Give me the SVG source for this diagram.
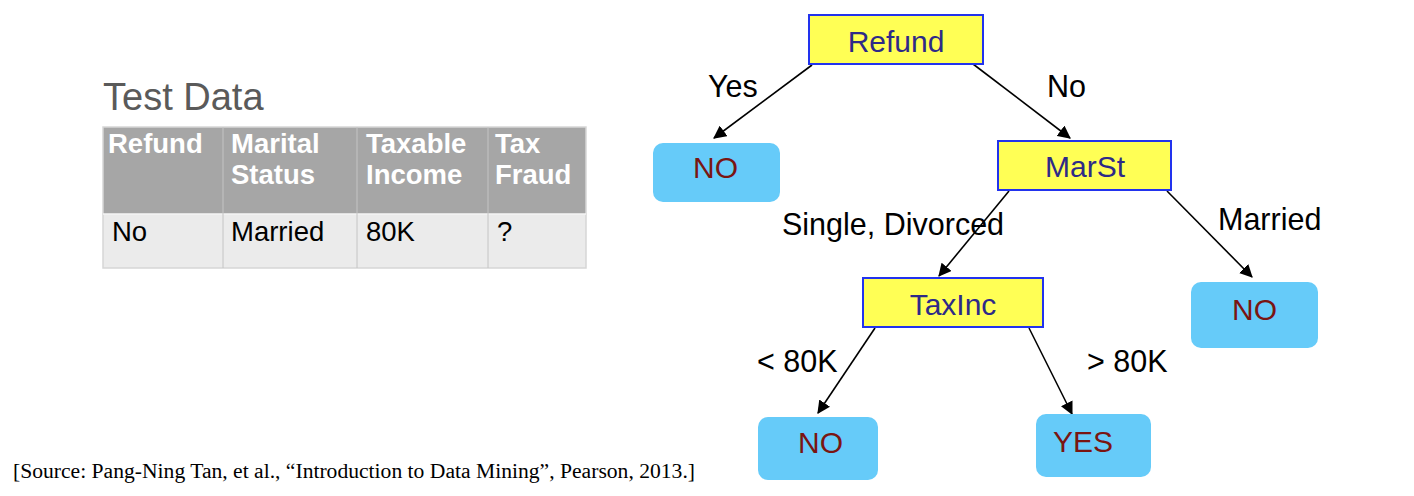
<svg xmlns="http://www.w3.org/2000/svg" width="1414" height="496" viewBox="0 0 1414 496">
<style>
.dec{fill:#ffff55;stroke:#2233ee;stroke-width:2}
.leaf{fill:#66cbf9}
.dt{font-family:"Liberation Sans",Arial,sans-serif;font-size:30px;fill:#2e2a88;text-anchor:middle}
.lt{font-family:"Liberation Sans",Arial,sans-serif;font-size:30px;fill:#7a1512}
.lbl{font-family:"Liberation Sans",Arial,sans-serif;font-size:30.5px;fill:#000}
.edge{stroke:#000;stroke-width:1.6;fill:none;marker-end:url(#arr)}
.th{font-family:"Liberation Sans",Arial,sans-serif;font-size:27.5px;font-weight:bold;fill:#fff}
.td{font-family:"Liberation Sans",Arial,sans-serif;font-size:27.5px;fill:#000}
</style>
<defs>
<marker id="arr" viewBox="0 0 12 12" refX="11" refY="6" markerWidth="13" markerHeight="13" markerUnits="userSpaceOnUse" orient="auto">
<path d="M0,0 L12,6 L0,12 z" fill="#000"/>
</marker>
</defs>
<rect width="1414" height="496" fill="#fff"/>

<g id="test-data">
<text x="103" y="110" font-family="Liberation Sans,Arial,sans-serif" font-size="38" fill="#5a5a5a">Test Data</text>
<rect x="103" y="127" width="483" height="87" fill="#a6a6a6"/>
<rect x="103" y="214" width="483" height="54" fill="#ebebeb"/>
<rect x="103" y="127" width="483" height="141" fill="none" stroke="#d6d6d6" stroke-width="1.5"/>
<line x1="103" y1="214" x2="586" y2="214" stroke="#f4f4f4" stroke-width="1.5"/>
<g stroke="#c4c4c4" stroke-width="1">
<line x1="223" y1="127" x2="223" y2="268"/>
<line x1="357" y1="127" x2="357" y2="268"/>
<line x1="488" y1="127" x2="488" y2="268"/>
</g>
<text class="th" x="108" y="153">Refund</text>
<text class="th" x="231" y="153">Marital</text>
<text class="th" x="231" y="184">Status</text>
<text class="th" x="366" y="153">Taxable</text>
<text class="th" x="366" y="184">Income</text>
<text class="th" x="495" y="153">Tax</text>
<text class="th" x="495" y="184">Fraud</text>
<text class="td" x="112" y="241">No</text>
<text class="td" x="231" y="241">Married</text>
<text class="td" x="366" y="241">80K</text>
<text class="td" x="497" y="241">?</text>
</g>

<g id="connectors">
<line class="edge" x1="812" y1="65" x2="714" y2="138"/>
<line class="edge" x1="973" y1="64" x2="1070" y2="138"/>
<line class="edge" x1="1009" y1="191" x2="939" y2="276"/>
<line class="edge" x1="1167" y1="191" x2="1252" y2="277"/>
<line class="edge" x1="875" y1="328" x2="818" y2="413"/>
<line class="edge" x1="1029" y1="328" x2="1072" y2="414"/>
<text class="lbl" x="708" y="97">Yes</text>
<text class="lbl" x="1047" y="97">No</text>
<text class="lbl" x="782" y="235">Single, Divorced</text>
<text class="lbl" x="1218" y="230">Married</text>
<text class="lbl" x="757" y="372">&lt; 80K</text>
<text class="lbl" x="1087" y="372">&gt; 80K</text>
</g>

<g id="node-refund">
<rect class="dec" x="809" y="15" width="174" height="49"/>
<text class="dt" x="896" y="52">Refund</text>
</g>
<g id="node-no1">
<rect class="leaf" x="653" y="143" width="127" height="59" rx="10"/>
<text class="lt" x="693" y="178">NO</text>
</g>
<g id="node-marst">
<rect class="dec" x="998" y="141" width="173" height="49"/>
<text class="dt" x="1085" y="177">MarSt</text>
</g>
<g id="node-taxinc">
<rect class="dec" x="863" y="278" width="180" height="49"/>
<text class="dt" x="953" y="315">TaxInc</text>
</g>
<g id="node-no2">
<rect class="leaf" x="1191" y="282" width="127" height="66" rx="10"/>
<text class="lt" x="1232" y="320">NO</text>
</g>
<g id="node-no3">
<rect class="leaf" x="758" y="417" width="120" height="63" rx="10"/>
<text class="lt" x="798" y="453">NO</text>
</g>
<g id="node-yes">
<rect class="leaf" x="1036" y="414" width="115" height="63" rx="10"/>
<text class="lt" x="1053" y="452">YES</text>
</g>

<text x="13" y="478" font-family="Liberation Serif,Times New Roman,serif" font-size="20" fill="#000" textLength="682" lengthAdjust="spacingAndGlyphs">[Source: Pang-Ning Tan, et al., “Introduction to Data Mining”, Pearson, 2013.]</text>
</svg>
